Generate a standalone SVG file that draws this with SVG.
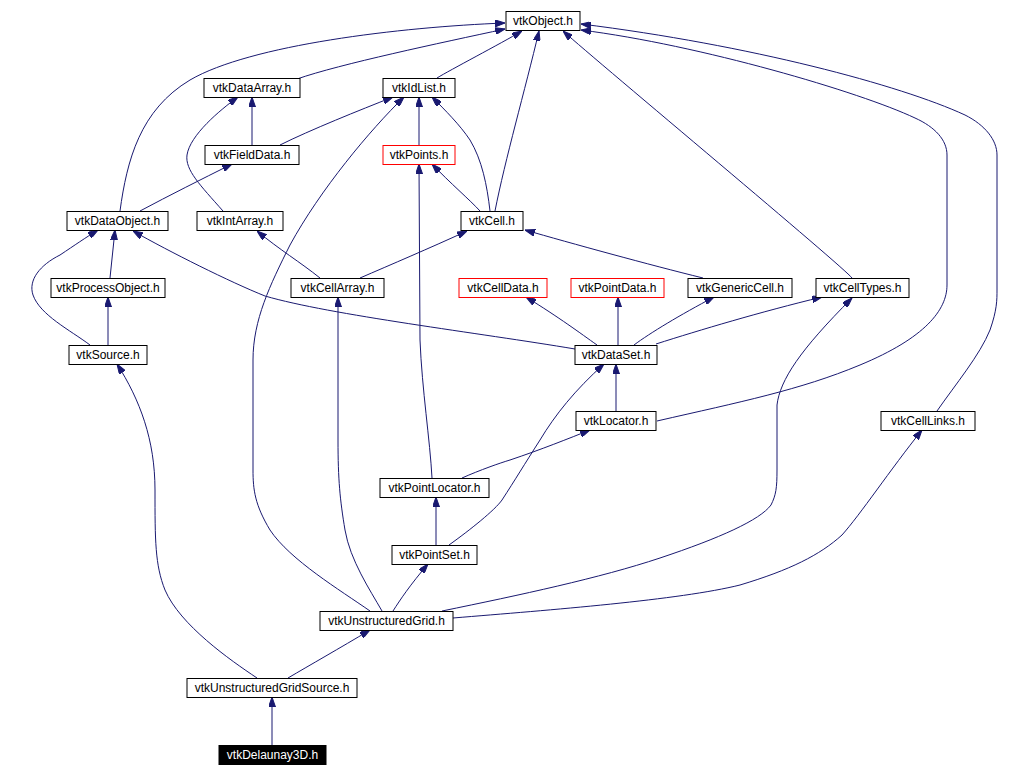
<svg xmlns="http://www.w3.org/2000/svg" width="1013" height="776" viewBox="0 0 1013 776">
<style>
.n rect{fill:#fff;stroke:#000;stroke-width:1}
.n.r rect{stroke:#ff0000}
.n.b rect{fill:#000}
.n text{font-family:"Liberation Sans",Arial,sans-serif;font-size:12px;text-anchor:middle;fill:#000}
.n.b text{fill:#fff}
#edges path{fill:none;stroke:#191970;stroke-width:1;marker-end:url(#ah)}
</style>
<defs>
<marker id="ah" viewBox="0 0 10 7" refX="10" refY="3.5" markerWidth="10" markerHeight="7" markerUnits="userSpaceOnUse" orient="auto">
<path d="M0,0 L10,3.5 L0,7 z" fill="#191970" stroke="#191970" stroke-width="1"/>
</marker>
</defs>
<rect width="1013" height="776" fill="#fff"/>
<g id="edges">
<path d="M297,79 C340,64 440,43 505,29"/>
<path d="M437,78 C450,70 500,44 522,31"/>
<path d="M495,211 C505,160 525,90 539,31"/>
<path d="M852,278 C845,268 600,64 563,31"/>
<path d="M120,211 C127,160 140,110 190,80 C250,45 400,27 505,23"/>
<path d="M657,421 C740,402 800,390 860,365 C925,338 947,310 947,285 L947,155 C947,140 935,127 915,118 C860,92 700,45 581,30"/>
<path d="M937,411 C955,385 980,355 990,330 C997,310 997,300 997,290 L997,155 C997,140 985,125 965,115 C900,85 750,45 581,24"/>
<path d="M252,145 L252,97"/>
<path d="M223,211 C200,185 185,170 187,155 C190,135 220,110 238,97"/>
<path d="M280,145 C310,130 360,110 393,97"/>
<path d="M419,145 L419,97"/>
<path d="M490,211 C487,185 482,160 470,140 C460,125 445,110 432,97"/>
<path d="M370,611 C340,590 290,560 270,530 C255,505 253,490 253,470 L253,360 C253,320 270,285 290,245 C320,190 370,130 404,97"/>
<path d="M480,211 C470,200 450,183 432,164"/>
<path d="M432,478 C430,440 422,390 420,340 L419,164"/>
<path d="M140,211 C170,195 200,180 232,164"/>
<path d="M110,278 L115,230"/>
<path d="M90,345 C70,330 40,315 33,295 C28,280 40,265 60,255 C75,245 85,238 98,230"/>
<path d="M575,349 C480,333 330,315 265,296 C230,282 170,252 133,231"/>
<path d="M320,278 C300,262 280,250 257,231"/>
<path d="M360,278 C390,265 430,248 467,231"/>
<path d="M703,278 C650,265 570,243 525,230"/>
<path d="M108,345 L108,297"/>
<path d="M382,611 C370,590 350,560 345,530 C340,500 338,480 338,440 L338,297"/>
<path d="M597,345 C580,333 560,318 526,297"/>
<path d="M618,345 L618,297"/>
<path d="M634,345 C650,333 680,315 714,297"/>
<path d="M656,344 C700,330 760,312 822,297"/>
<path d="M442,611 C520,595 600,578 660,558 C720,538 760,520 771,505 C776,495 777,488 777,470 L777,405 C780,380 800,350 852,298"/>
<path d="M257,678 C230,660 180,625 165,590 C155,565 155,540 155,490 C155,440 140,400 117,364"/>
<path d="M616,411 L616,364"/>
<path d="M449,545 C470,530 495,510 502,500 C515,480 524,465 540,440 C555,415 575,390 604,364"/>
<path d="M462,478 C480,470 500,463 510,460 C540,450 570,438 590,430"/>
<path d="M453,618 C550,610 680,600 740,585 C790,570 820,555 842,535 C860,515 890,470 922,430"/>
<path d="M436,545 L436,497"/>
<path d="M393,611 C400,600 410,585 428,564"/>
<path d="M288,678 C310,665 340,648 370,630"/>
<path d="M272,745 L272,697"/>
</g>
<g id="vtkObject" class="n"><rect x="506" y="11.5" width="74" height="19"/><text x="543" y="25">vtkObject.h</text></g>
<g id="vtkDataArray" class="n"><rect x="204" y="78.5" width="96" height="19"/><text x="252" y="92">vtkDataArray.h</text></g>
<g id="vtkIdList" class="n"><rect x="383" y="78.5" width="72" height="19"/><text x="419" y="92">vtkIdList.h</text></g>
<g id="vtkFieldData" class="n"><rect x="205" y="145.5" width="94" height="19"/><text x="252" y="159">vtkFieldData.h</text></g>
<g id="vtkPoints" class="n r"><rect x="383" y="145.5" width="72" height="19"/><text x="419" y="159">vtkPoints.h</text></g>
<g id="vtkDataObject" class="n"><rect x="67" y="211.5" width="101" height="19"/><text x="117.5" y="225">vtkDataObject.h</text></g>
<g id="vtkIntArray" class="n"><rect x="197" y="211.5" width="86" height="19"/><text x="240" y="225">vtkIntArray.h</text></g>
<g id="vtkCell" class="n"><rect x="461" y="211.5" width="62" height="19"/><text x="492" y="225">vtkCell.h</text></g>
<g id="vtkProcessObject" class="n"><rect x="51" y="278.5" width="114" height="19"/><text x="108" y="292">vtkProcessObject.h</text></g>
<g id="vtkCellArray" class="n"><rect x="291" y="278.5" width="93" height="19"/><text x="337.5" y="292">vtkCellArray.h</text></g>
<g id="vtkCellData" class="n r"><rect x="459" y="278.5" width="88" height="19"/><text x="503" y="292">vtkCellData.h</text></g>
<g id="vtkPointData" class="n r"><rect x="571" y="278.5" width="93" height="19"/><text x="617.5" y="292">vtkPointData.h</text></g>
<g id="vtkGenericCell" class="n"><rect x="688" y="278.5" width="104" height="19"/><text x="740" y="292">vtkGenericCell.h</text></g>
<g id="vtkCellTypes" class="n"><rect x="816" y="278.5" width="93" height="19"/><text x="862.5" y="292">vtkCellTypes.h</text></g>
<g id="vtkSource" class="n"><rect x="69" y="345.5" width="78" height="19"/><text x="108" y="359">vtkSource.h</text></g>
<g id="vtkDataSet" class="n"><rect x="575" y="345.5" width="82" height="19"/><text x="616" y="359">vtkDataSet.h</text></g>
<g id="vtkLocator" class="n"><rect x="576" y="411.5" width="80" height="19"/><text x="616" y="425">vtkLocator.h</text></g>
<g id="vtkCellLinks" class="n"><rect x="881" y="411.5" width="94" height="19"/><text x="928" y="425">vtkCellLinks.h</text></g>
<g id="vtkPointLocator" class="n"><rect x="380" y="478.5" width="109" height="19"/><text x="434.5" y="492">vtkPointLocator.h</text></g>
<g id="vtkPointSet" class="n"><rect x="392" y="545.5" width="85" height="19"/><text x="434.5" y="559">vtkPointSet.h</text></g>
<g id="vtkUnstructuredGrid" class="n"><rect x="320" y="611.5" width="133" height="19"/><text x="386.5" y="625">vtkUnstructuredGrid.h</text></g>
<g id="vtkUnstructuredGridSource" class="n"><rect x="187" y="678.5" width="170" height="19"/><text x="272" y="692">vtkUnstructuredGridSource.h</text></g>
<g id="vtkDelaunay3D" class="n b"><rect x="219" y="745.5" width="107" height="19"/><text x="272.5" y="759">vtkDelaunay3D.h</text></g>
</svg>
